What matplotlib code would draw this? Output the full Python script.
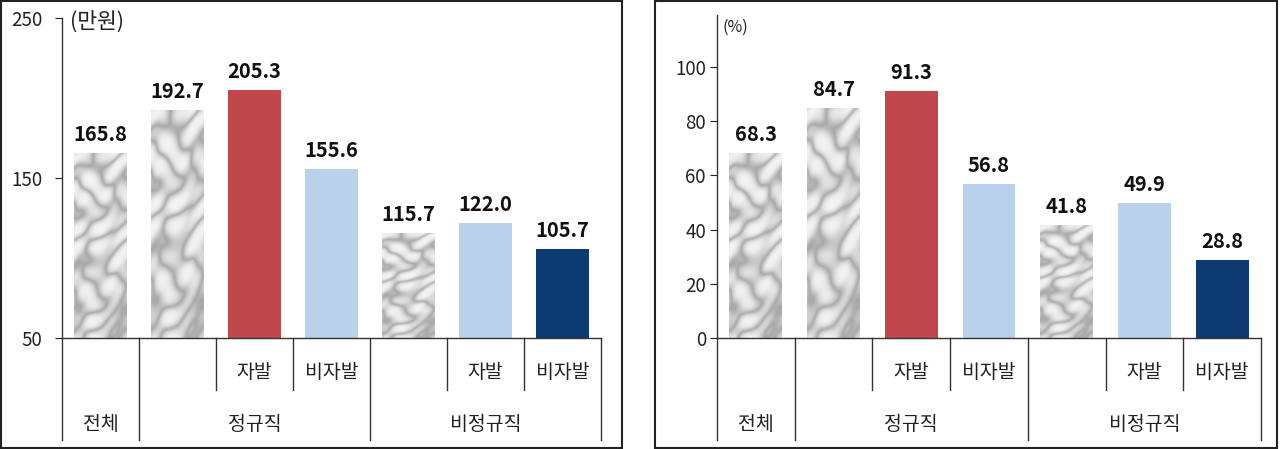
import numpy as np
import matplotlib
matplotlib.use("Agg")
import matplotlib.pyplot as plt
from matplotlib.patches import Rectangle
from matplotlib.colors import LinearSegmentedColormap
from matplotlib import transforms

plt.rcParams["font.family"] = ["Noto Sans CJK KR", "DejaVu Sans"]

# ---- data ----
sub_labels = ["", "", "자발", "비자발", "", "자발", "비자발"]
group_labels = ["전체", "정규직", "비정규직"]
group_centers = [0, 2, 5]
wage = [165.8, 192.7, 205.3, 155.6, 115.7, 122.0, 105.7]        # 만원
share = [68.3, 84.7, 91.3, 56.8, 41.8, 49.9, 28.8]              # %
styles = ["marble", "marble", "red", "lblue", "marble", "lblue", "navy"]
colors = {"red": "#C0474C", "lblue": "#B9D1EA", "navy": "#0E3A72"}
long_seps = [-0.5, 0.5, 3.5, 6.5]
short_seps = [1.5, 2.5, 4.5, 5.5]

W, H = 1280, 449
fig = plt.figure(figsize=(W / 100, H / 100), dpi=100)

# deterministic marble-like texture (style only)
yy, xx = np.mgrid[0:200, 0:60] / 10.0
tex = (np.sin(xx * 1.1 + np.sin(yy * 0.7) * 2.0 + yy * 0.3)
       + 0.6 * np.sin(yy * 1.5 + np.cos(xx * 0.9) * 1.6)
       + 0.3 * np.sin((xx + yy) * 2.2 + np.sin(xx * 1.4)))
tex = np.abs(tex)
marble = LinearSegmentedColormap.from_list(
    "marble", ["#a8a8a8", "#c4c4c4", "#dadada", "#e8e8e8", "#f0f0f0", "#f4f4f4"])


def px(x, y):
    return x / W, 1 - y / H


def panel(values, rect_px, ylim, yticks, unit, unit_xy, unit_size, pad):
    x0, y0 = px(rect_px[0], rect_px[3])
    x1, y1 = px(rect_px[2], rect_px[1])
    ax = fig.add_axes([x0, y0, x1 - x0, y1 - y0])
    for i, (v, st) in enumerate(zip(values, styles)):
        if st == "marble":
            b = ax.bar(i, v - ylim[0], bottom=ylim[0], width=0.68, color="none", linewidth=0)[0]
            im = ax.imshow(tex, cmap=marble, extent=(i - 0.34, i + 0.34, ylim[0], v),
                           aspect="auto", zorder=2, interpolation="bicubic")
            im.set_clip_path(b)
        else:
            ax.bar(i, v - ylim[0], bottom=ylim[0], width=0.68, color=colors[st], linewidth=0, zorder=2)
        ax.text(i, v + (ylim[1] - ylim[0]) * 0.025, f"{v:.1f}", ha="center", va="bottom",
                fontsize=14.5, fontweight="bold", color="#111111")
    ax.set_xlim(-0.5, 6.5)
    ax.set_ylim(*ylim)
    ax.set_yticks(yticks)
    ax.tick_params(axis="y", direction="out", length=5, labelsize=13.5, colors="#222222", pad=pad)
    ax.set_xticks([])
    for s in ["top", "right"]:
        ax.spines[s].set_visible(False)
    for s in ["left", "bottom"]:
        ax.spines[s].set_color("#333333")
        ax.spines[s].set_linewidth(1)
    ax.set_facecolor("none")

    tr = transforms.blended_transform_factory(ax.transData, fig.transFigure)
    for xsep in long_seps:
        ax.plot([xsep, xsep], [y0, px(0, 440)[1]], color="#333333", lw=1, transform=tr, clip_on=False)
    for xsep in short_seps:
        ax.plot([xsep, xsep], [y0, px(0, 390)[1]], color="#333333", lw=1, transform=tr, clip_on=False)
    for i, lab in enumerate(sub_labels):
        if lab:
            ax.text(i, px(0, 373)[1], lab, transform=tr, ha="center", va="center", fontsize=14, color="#222222")
    for c, lab in zip(group_centers, group_labels):
        ax.text(c, px(0, 425)[1], lab, transform=tr, ha="center", va="center", fontsize=14, color="#222222")
    fig.text(*px(*unit_xy), unit, ha="left", va="center", fontsize=unit_size, color="#222222")
    return ax


panel(wage, (62, 18, 601, 338), (50, 250), [50, 150, 250], "(만원)", (70, 22), 15.5, 9)
panel(share, (717, 15, 1261, 338), (0, 119.2), [0, 20, 40, 60, 80, 100], "(%)", (723, 27), 11.5, 3)

# panel frames
for (xa, xb) in [(1, 622), (655, 1277)]:
    bx0, by0 = px(xa, 448)
    bx1, by1 = px(xb, 0.5)
    fig.add_artist(Rectangle((bx0, by0), bx1 - bx0, by1 - by0, transform=fig.transFigure,
                             fill=False, edgecolor="#222222", lw=1.5))

fig.savefig("out.png", dpi=100)
